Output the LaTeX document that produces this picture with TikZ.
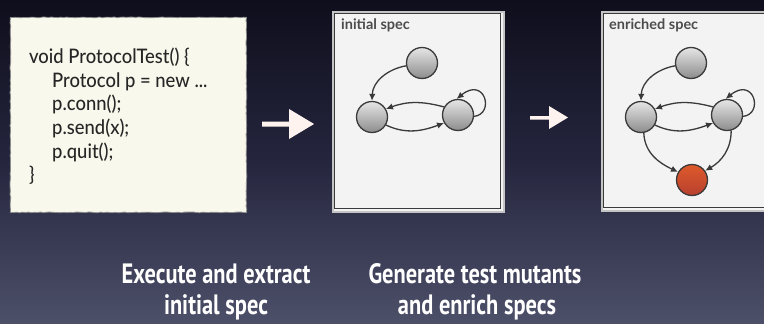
\documentclass[tikz,border=0pt]{standalone}
\usepackage{fontspec}
\setmainfont{Lato}
\newfontfamily\labelfont[FakeStretch=0.8]{PT Sans}
\newfontfamily\codefont[FakeStretch=0.92]{Lato Medium}
\usetikzlibrary{arrows.meta,shadows,decorations.pathmorphing}
\definecolor{bgtop}{HTML}{0E0E1C}
\definecolor{bgmid}{HTML}{25263E}
\definecolor{bgbot}{HTML}{4D5069}
\definecolor{codebg}{HTML}{F8F8EC}
\definecolor{codefg}{HTML}{262626}
\definecolor{specbg}{HTML}{F3F3F3}
\definecolor{specframe}{HTML}{C4C4C4}
\definecolor{edgecol}{HTML}{3A3A3A}
\definecolor{arrowcol}{HTML}{FFF3EF}
\definecolor{redtop}{HTML}{DE5A2C}
\definecolor{redbot}{HTML}{B8402E}
\tikzset{
  codeline/.style={anchor=base west, inner sep=0, font=\codefont\fontsize{20}{22}\selectfont, text=codefg},
  speclabel/.style={anchor=base west, inner sep=0, font=\fontsize{14.5}{16}\selectfont\bfseries, text=black!70},
  capline/.style={anchor=base, inner sep=0, font=\labelfont\fontsize{28}{30}\selectfont\bfseries, text=white},
  state/.style={circle, minimum size=31pt, inner sep=0, draw=edgecol, line width=1.3pt, top color=black!10, bottom color=black!45},
  badstate/.style={state, top color=redtop, bottom color=redbot},
  trans/.style={draw=edgecol, line width=1.3pt, -{Latex[length=7pt,width=6.5pt]}},
  bigarrow/.style={fill=arrowcol, draw=none},
  specbox/.style={fill=specbg, draw=specframe, line width=2pt},
  specinner/.style={draw=edgecol, line width=0.8pt}
}
\begin{document}
\begin{tikzpicture}[x=1pt,y=1pt]
\useasboundingbox (0,0) rectangle (764,-324);
\shade[top color=bgtop, bottom color=bgbot, middle color=bgmid] (0,0) rectangle (764,-324);

% code box
\node[draw=black!45, fill=codebg, line width=0.8pt, minimum width=236pt, minimum height=195pt, inner sep=0, anchor=north west, decorate, decoration={random steps, segment length=3pt, amplitude=0.4pt}] (code) at (10,-17) {};
\node[codeline] (c1) at (29,-63) {void ProtocolTest() \{};
\node[codeline] (c2) at (52,-87) {Protocol p = new ...};
\node[codeline] (c3) at (52,-110.5) {p.conn();};
\node[codeline] (c4) at (52,-134) {p.send(x);};
\node[codeline] (c5) at (52,-158) {p.quit();};
\node[codeline] (c6) at (29,-181.5) {\}};

% arrow 1
\fill[bigarrow] (262,-121.5) -- (289,-121.5) -- (289,-109) -- (314,-124) -- (289,-139) -- (289,-126.5) -- (262,-126.5) -- cycle;
% arrow 2
\fill[bigarrow] (530,-116) -- (549,-116) -- (549,-106) -- (568,-117.5) -- (549,-129) -- (549,-119.5) -- (530,-119.5) -- cycle;

% initial spec box
\node[specbox, minimum width=171pt, minimum height=200pt, anchor=north west, inner sep=0] (s1) at (332,-11) {};
\draw[specinner] (334.5,-13.5) rectangle (500.5,-208.5);
\node[speclabel] (s1l) at (341,-30) {initial spec};

\node[state] (a1) at (422,-63) {};
\node[state] (b1) at (372,-117) {};
\node[state] (d1) at (458,-115) {};
\draw[trans] (a1.190) to[out=190,in=88] (b1.north);
\draw[trans] (d1.150) to[out=165,in=20] (b1.30);
\draw[trans] (b1.-30) to[out=-25,in=200] (d1.-150);
\draw[trans] (d1.-5) .. controls (495,-114) and (485,-76) .. (d1.95);

% enriched spec box
\node[specbox, minimum width=175pt, minimum height=199pt, anchor=north west, inner sep=0] (s2) at (601,-11) {};
\draw[specinner] (603.5,-13.5) rectangle (780,-207.5);
\node[speclabel] (s2l) at (609,-30) {enriched spec};

\node[state] (a2) at (691,-63) {};
\node[state] (b2) at (641,-117) {};
\node[state] (d2) at (727,-115) {};
\node[badstate] (e2) at (692,-180) {};
\draw[trans] (a2.190) to[out=190,in=88] (b2.north);
\draw[trans] (d2.150) to[out=165,in=20] (b2.30);
\draw[trans] (b2.-30) to[out=-25,in=200] (d2.-150);
\draw[trans] (d2.-5) .. controls (764,-114) and (754,-76) .. (d2.95);
\draw[trans] (b2.-80) to[out=-88,in=155] (e2.150);
\draw[trans] (d2.-75) to[out=-90,in=30] (e2.35);

% captions
\node[capline] (t1) at (216,-283) {Execute and extract};
\node[capline] (t2) at (216,-314) {initial spec};
\node[capline] (t3) at (475,-283) {Generate test mutants};
\node[capline] (t4) at (477,-314) {and enrich specs};
\end{tikzpicture}
\end{document}
